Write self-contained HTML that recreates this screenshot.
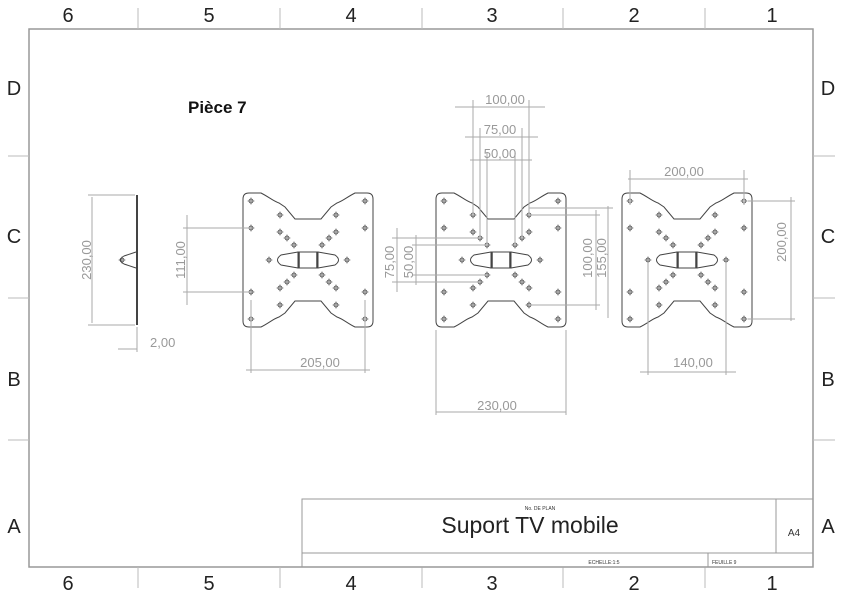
<!DOCTYPE html>
<html><head><meta charset="utf-8"><style>
body{margin:0;background:#fff}
svg{display:block;font-family:"Liberation Sans","DejaVu Sans",sans-serif}
.d{stroke:#aaa;stroke-width:1;fill:none}
.t{fill:#999;font-size:13px}
.p{stroke:#444;stroke-width:1;fill:none}
</style></head><body>
<svg width="843" height="596" viewBox="0 0 843 596">
<defs>
<g id="h"><circle r="2" fill="none" stroke="#444" stroke-width="0.8"/><path d="M-3.5 0H3.5M0 -3.5V3.5" stroke="#444" stroke-width="0.6"/></g>
<g id="pl">
<path class="p" d="M6 0 L18 0 C26 4 30 8 36 10 L42 14 L52 26 L78 26 L88 14 L94 10 C100 8 104 4 112 0 L124 0 Q130 0 130 6 L130 128 Q130 134 124 134 L112 134 C104 130 100 126 94 124 L88 120 L78 108 L52 108 L42 120 L36 124 C30 126 26 130 18 134 L6 134 Q0 134 0 128 L0 6 Q0 0 6 0Z"/>
<path class="p" d="M55 59 L38 62 Q31 67 38 72 L55 75 L75 75 L92 72 Q99 67 92 62 L75 59Z"/>
<rect class="p" x="55" y="59" width="20" height="16"/>
<path d="M56 59V75M74 59V75" stroke="#444" stroke-width="1.5"/>
<use href="#h" x="8" y="8"/><use href="#h" x="122" y="8"/><use href="#h" x="8" y="126"/><use href="#h" x="122" y="126"/>
<use href="#h" x="8" y="35"/><use href="#h" x="122" y="35"/><use href="#h" x="8" y="99"/><use href="#h" x="122" y="99"/>
<use href="#h" x="37" y="22"/><use href="#h" x="93" y="22"/><use href="#h" x="37" y="39"/><use href="#h" x="93" y="39"/>
<use href="#h" x="44" y="45"/><use href="#h" x="86" y="45"/><use href="#h" x="51" y="52"/><use href="#h" x="79" y="52"/>
<use href="#h" x="26" y="67"/><use href="#h" x="104" y="67"/>
<use href="#h" x="51" y="82"/><use href="#h" x="79" y="82"/><use href="#h" x="44" y="89"/><use href="#h" x="86" y="89"/>
<use href="#h" x="37" y="95"/><use href="#h" x="93" y="95"/><use href="#h" x="37" y="112"/><use href="#h" x="93" y="112"/>
</g>
</defs>
<rect x="29" y="29" width="784" height="538" fill="none" stroke="#999" stroke-width="1.5"/>
<g stroke="#bbb" stroke-width="1">
<path d="M138 8V29M280 8V29M422 8V29M563 8V29M705 8V29M138 567V588M280 567V588M422 567V588M563 567V588M705 567V588"/>
<path d="M8 156H29M8 298H29M8 440H29M813 156H835M813 298H835M813 440H835"/>
</g>
<g font-size="20" fill="#222" text-anchor="middle">
<text x="68" y="22">6</text><text x="209" y="22">5</text><text x="351" y="22">4</text><text x="492" y="22">3</text><text x="634" y="22">2</text><text x="772" y="22">1</text>
<text x="68" y="590">6</text><text x="209" y="590">5</text><text x="351" y="590">4</text><text x="492" y="590">3</text><text x="634" y="590">2</text><text x="772" y="590">1</text>
<text x="14" y="95">D</text><text x="14" y="243">C</text><text x="14" y="386">B</text><text x="14" y="533">A</text>
<text x="828" y="95">D</text><text x="828" y="243">C</text><text x="828" y="386">B</text><text x="828" y="533">A</text>
</g>
<text x="188" y="113" font-size="17" font-weight="bold" fill="#111">Pièce 7</text>
<g fill="none" stroke="#999"><rect x="302" y="499" width="511" height="68"/><path d="M302 553H813M776 499V553M708 553V567"/></g>
<text x="540" y="510" font-size="5" fill="#333" text-anchor="middle">No. DE PLAN</text>
<text x="530" y="533" font-size="23" fill="#222" text-anchor="middle">Suport TV mobile</text>
<text x="794" y="536" font-size="10" fill="#333" text-anchor="middle">A4</text>
<text x="604" y="564" font-size="5" fill="#333" text-anchor="middle">ECHELLE:1:5</text>
<text x="712" y="564" font-size="5" fill="#333">FEUILLE 9</text>
<path d="M137 195V325" stroke="#444" stroke-width="2"/>
<path class="p" d="M136 252L124 256Q117 260 124 264L136 268"/><use href="#h" x="122" y="260"/>
<g class="d"><path d="M88 195H135M88 325H135M92 197V323M137 327V352M118 349H137"/></g>
<text class="t" transform="translate(91 260) rotate(-90)" text-anchor="middle">230,00</text>
<text class="t" x="150" y="347">2,00</text>
<use href="#pl" x="243" y="193"/><use href="#pl" x="436" y="193"/><use href="#pl" x="622" y="193"/>
<g class="d">
<path d="M183 228H251M183 292H251M187 215V305"/>
<path d="M251 300V373M365 300V373M246 370H370"/>
<path d="M436 330V415M566 330V415M436 412H566"/>
<path d="M473 100V215M529 100V215M455 107H545M480 128V238M522 128V238M465 137H538M487 152V245M515 152V245M470 160H532"/>
<path d="M392 238H480M392 282H480M397 228V292M412 245H487M412 275H487M416 235V285"/>
<path d="M529 215H600M529 305H600M596 210V310M529 208H613M608 206V318"/>
<path d="M630 170V205M744 170V205M628 179H748M748 201H795M748 319H795M791 197V321"/>
<path d="M648 262V375M726 262V375M640 372H736"/>
</g>
<g class="t" text-anchor="middle">
<text transform="translate(185 260) rotate(-90)">111,00</text>
<text x="320" y="367">205,00</text>
<text x="497" y="410">230,00</text>
<text x="505" y="104">100,00</text>
<text x="500" y="134">75,00</text>
<text x="500" y="158">50,00</text>
<text transform="translate(394 262) rotate(-90)">75,00</text>
<text transform="translate(413 262) rotate(-90)">50,00</text>
<text transform="translate(592 258) rotate(-90)">100,00</text>
<text transform="translate(606 258) rotate(-90)">155,00</text>
<text x="684" y="176">200,00</text>
<text transform="translate(786 242) rotate(-90)">200,00</text>
<text x="693" y="367">140,00</text>
</g>
</svg>
</body></html>
